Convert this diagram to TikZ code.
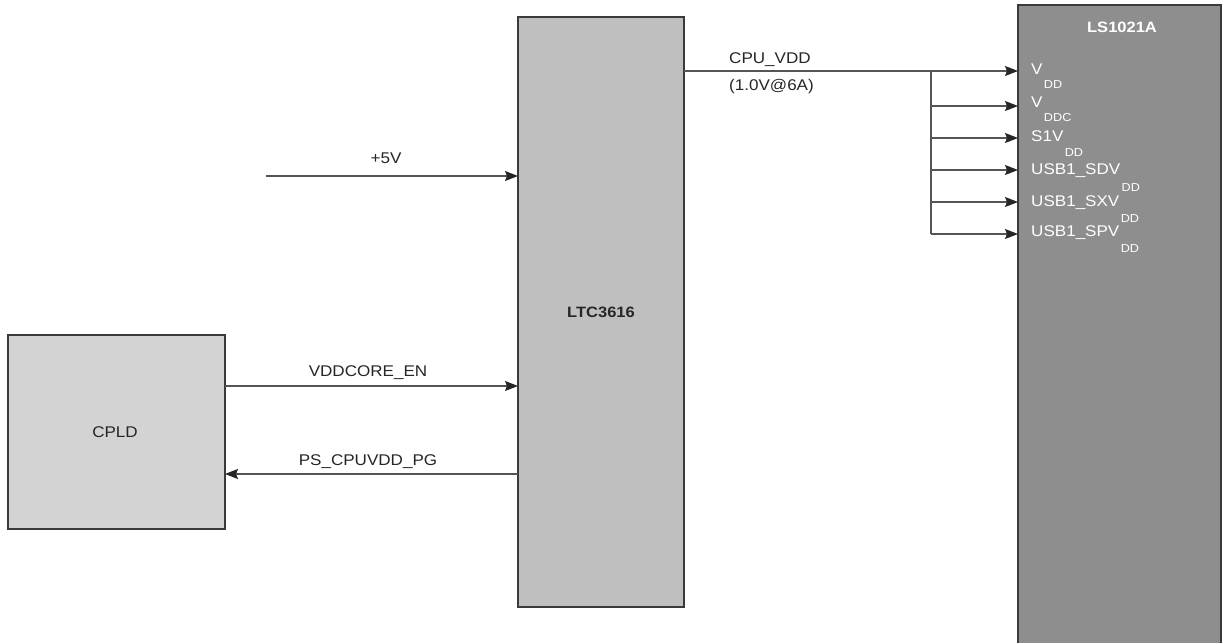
\documentclass[tikz,border=0pt]{standalone}
\usepackage{fontspec}
\setmainfont{Liberation Sans}[FakeStretch=1.1]
\usetikzlibrary{arrows.meta,calc}
\definecolor{ltcfill}{HTML}{BFBFBF}
\definecolor{cpldfill}{HTML}{D3D3D3}
\definecolor{lsfill}{HTML}{8E8E8E}
\definecolor{edge}{HTML}{3A3A3A}
\definecolor{wire}{HTML}{555555}
\tikzset{
  blk/.style={draw=edge, line width=1.4pt},
  sig/.style={draw=wire, line width=1.1pt, -{Stealth[length=13pt,width=10pt,inset=2pt,color=black!85]}},
  lbl/.style={font=\fontsize{15.5}{18}\selectfont, text=black!85, inner sep=0pt},
  pin/.style={font=\fontsize{15.5}{18}\selectfont, text=white, inner sep=0pt, anchor=west},
  sub/.style={font=\fontsize{11.5}{13}\selectfont, text=white, inner sep=0pt, anchor=west},
}
\begin{document}
\begin{tikzpicture}[x=1pt,y=-1pt]
\clip (0,0) rectangle (1225,642);
\fill[white] (0,0) rectangle (1225,642);
% blocks
\path[blk, fill=ltcfill] (518,17) rectangle (684,607);
\node[font=\bfseries\fontsize{15}{17}\selectfont, text=black!85] (ltc) at (601,312) {LTC3616};
\coordinate (ltcL) at (518,0);
\coordinate (ltcR) at (684,0);
\path[blk, fill=cpldfill] (8,335) rectangle (225,529);
\node[lbl] (cpld) at (115,432) {CPLD};
\coordinate (cpldR) at (225,0);
\path[blk, fill=lsfill] (1018,5) rectangle (1221,660);
\node[font=\bfseries\fontsize{15}{17}\selectfont, text=white] (ls) at (1122,27) {LS1021A};
\coordinate (lsL) at (1018,0);
% +5V
\coordinate (p5) at (266,176);
\draw[sig] (p5) -- (p5 -| ltcL);
\node[lbl] (l5) at (386,158) {+5V};
% VDDCORE_EN
\coordinate (en) at (225,386);
\draw[sig] (en) -- (en -| ltcL);
\node[lbl] (len) at (368,373) {VDDCORE\_EN};
% PS_CPUVDD_PG
\coordinate (pg) at (518,474);
\draw[sig] (pg) -- (pg -| cpldR);
\node[lbl] (lpg) at (368,462) {PS\_CPUVDD\_PG};
% CPU_VDD
\coordinate (cv) at (684,71);
\coordinate (br) at (931,71);
\draw[sig] (cv) -- (cv -| lsL);
\node[lbl, anchor=west] (lcv) at (729,60) {CPU\_VDD};
\node[lbl, anchor=west] (lcv2) at (729,86) {(1.0V@6A)};
\coordinate (b2) at (931,106);
\coordinate (b3) at (931,138);
\coordinate (b4) at (931,170);
\coordinate (b5) at (931,202);
\coordinate (b6) at (931,234);
\draw[draw=wire, line width=1.1pt] (br) -- (b6);
\foreach \b in {b2,b3,b4,b5,b6} \draw[sig] (\b) -- (\b -| lsL);
% pins
\node[pin] (p1) at (1031,69) {V};
\node[sub] (s1) at ($(p1.east)+(1,16)$) {DD};
\node[pin] (p2) at (1031,102) {V};
\node[sub] (s2) at ($(p2.east)+(1,16)$) {DDC};
\node[pin] (p3) at (1031,136) {S1V};
\node[sub] (s3) at ($(p3.east)+(1,17)$) {DD};
\node[pin] (p4) at (1031,171) {USB1\_SDV};
\node[sub] (s4) at ($(p4.east)+(1,17)$) {DD};
\node[pin] (p5n) at (1031,203) {USB1\_SXV};
\node[sub] (s5) at ($(p5n.east)+(1,16)$) {DD};
\node[pin] (p6) at (1031,233) {USB1\_SPV};
\node[sub] (s6) at ($(p6.east)+(1,16)$) {DD};
\end{tikzpicture}
\end{document}
